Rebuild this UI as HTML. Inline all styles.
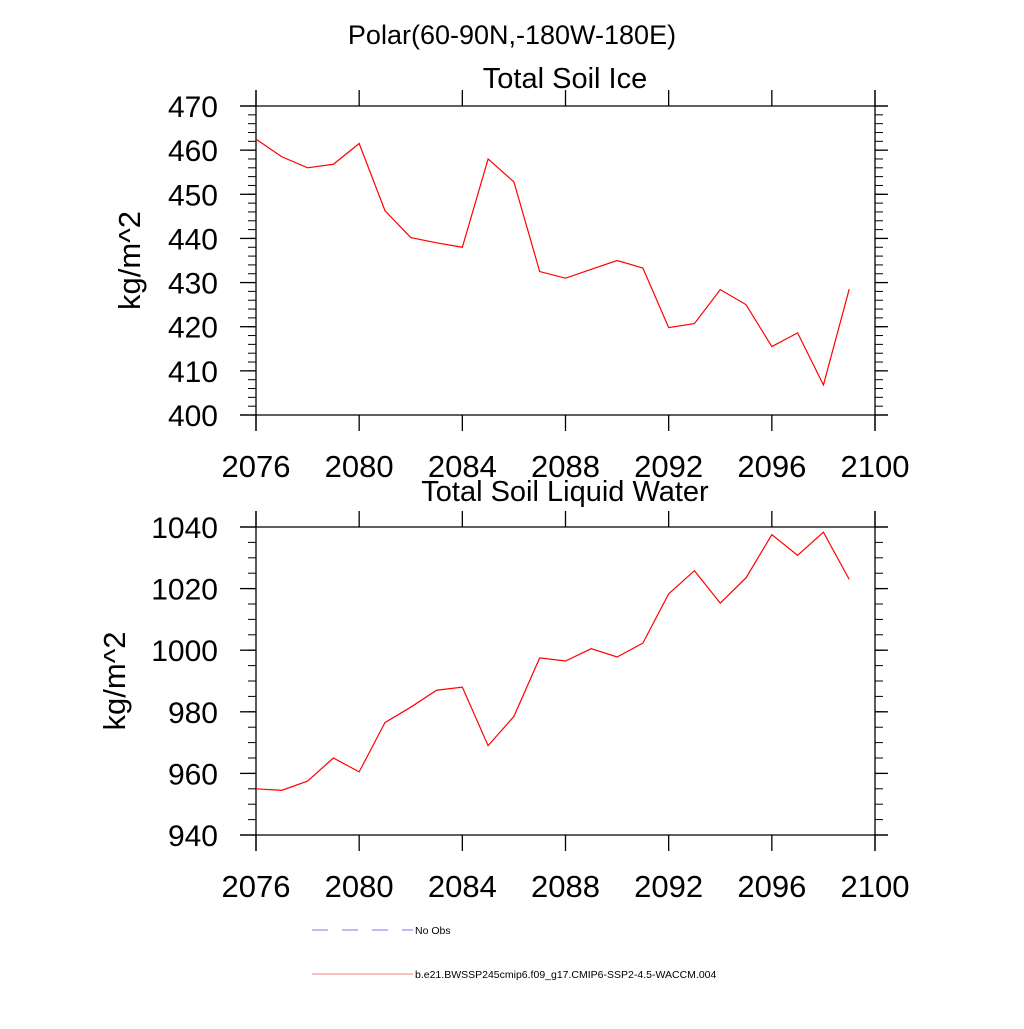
<!DOCTYPE html>
<html><head><meta charset="utf-8"><style>
body{margin:0;background:#fff}
svg text{font-family:"Liberation Sans",sans-serif;fill:#000}
</style></head><body>
<svg id="c" width="1024" height="1024" viewBox="0 0 1024 1024">
<text x="512" y="44" font-size="27" text-anchor="middle">Polar(60-90N,-180W-180E)</text>
<g>
<line x1="312" y1="930" x2="413" y2="930" stroke="#7777ee" stroke-dasharray="16,14"/>
<text x="415" y="934" font-size="10.5">No Obs</text>
<line x1="312" y1="974" x2="413" y2="974" stroke="#f08080"/>
<text x="415" y="978" font-size="10.5">b.e21.BWSSP245cmip6.f09_g17.CMIP6-SSP2-4.5-WACCM.004</text>
</g>
</svg>
<script>
const years=[2076,2077,2078,2079,2080,2081,2082,2083,2084,2085,2086,2087,2088,2089,2090,2091,2092,2093,2094,2095,2096,2097,2098,2099];
const iceValues=[462.5,458.5,456,456.8,461.5,446.3,440.2,439,438,458,452.8,432.5,431,433,435,433.3,419.8,420.7,428.4,425,415.5,418.6,406.8,428.5];
const waterValues=[955,954.5,957.5,965,960.5,976.5,981.5,987,988,969,978.5,997.5,996.5,1000.5,997.8,1002.3,1018.3,1025.8,1015.3,1023.5,1037.5,1030.8,1038.3,1023];
const xTicks=[2076,2080,2084,2088,2092,2096,2100];
const iceTicks=[400,410,420,430,440,450,460,470];
const waterTicks=[940,960,980,1000,1020,1040];
const svg=document.getElementById('c');
const NS='http://www.w3.org/2000/svg';
function mk(t,a,p){const e=document.createElementNS(NS,t);for(const k in a)e.setAttribute(k,a[k]);(p||svg).appendChild(e);return e;}
const X0=256,X1=875;
const xs=v=>X0+(v-2076)/(2100-2076)*(X1-X0);
function panel(name,title,titleY,top,bot,ymin,ymax,ticks,minorStep,vals,labelY){
  const g=mk('g',{});
  
  
  const ys=v=>bot-(v-ymin)/(ymax-ymin)*(bot-top);
  const t=mk('text',{x:565,y:titleY,'font-size':29,'text-anchor':'middle'},g);t.textContent=title;
  
  
  const yl=mk('text',{x:0,y:0,'font-size':31,'text-anchor':'middle',transform:`translate(${labelY},${(top+bot)/2}) rotate(-90)`},g);yl.textContent='kg/m^2';
  
  
  const ax=mk('g',{stroke:'#000','stroke-width':1.3},g);
  
  
  mk('line',{x1:240,y1:top,x2:888,y2:top},ax);mk('line',{x1:240,y1:bot,x2:888,y2:bot},ax);
  mk('line',{x1:X0,y1:top-16,x2:X0,y2:bot+16},ax);mk('line',{x1:X1,y1:top-16,x2:X1,y2:bot+16},ax);
  xTicks.forEach(v=>{const x=xs(v);
    mk('line',{x1:x,y1:top-16,x2:x,y2:top},ax);mk('line',{x1:x,y1:bot,x2:x,y2:bot+16},ax);
    const l=mk('text',{x:x,y:bot+62,'font-size':31,'text-anchor':'middle',stroke:'none'},g);l.textContent=v;
    
    });
  for(let v=ymin;v<=ymax+1e-9;v+=minorStep){const y=ys(v);
    mk('line',{x1:248,y1:y,x2:X0,y2:y,'stroke-width':1},ax);mk('line',{x1:X1,y1:y,x2:883,y2:y,'stroke-width':1},ax);}
  ticks.forEach(v=>{const y=ys(v);
    mk('line',{x1:240,y1:y,x2:X0,y2:y},ax);mk('line',{x1:X1,y1:y,x2:888,y2:y},ax);
    const l=mk('text',{x:218,y:y+11,'font-size':30,'text-anchor':'end'},g);l.textContent=v;
    
    });
  const ln=mk('polyline',{fill:'none',stroke:'#ff0000','stroke-width':1.2,points:vals.map((v,i)=>xs(years[i])+','+ys(v)).join(' ')},g);
  
  
}
panel('ice-panel','Total Soil Ice',88,106,415,400,470,iceTicks,2,iceValues,140);
panel('water-panel','Total Soil Liquid Water',501,527,835,940,1040,waterTicks,5,waterValues,125);
</script>
</body></html>
